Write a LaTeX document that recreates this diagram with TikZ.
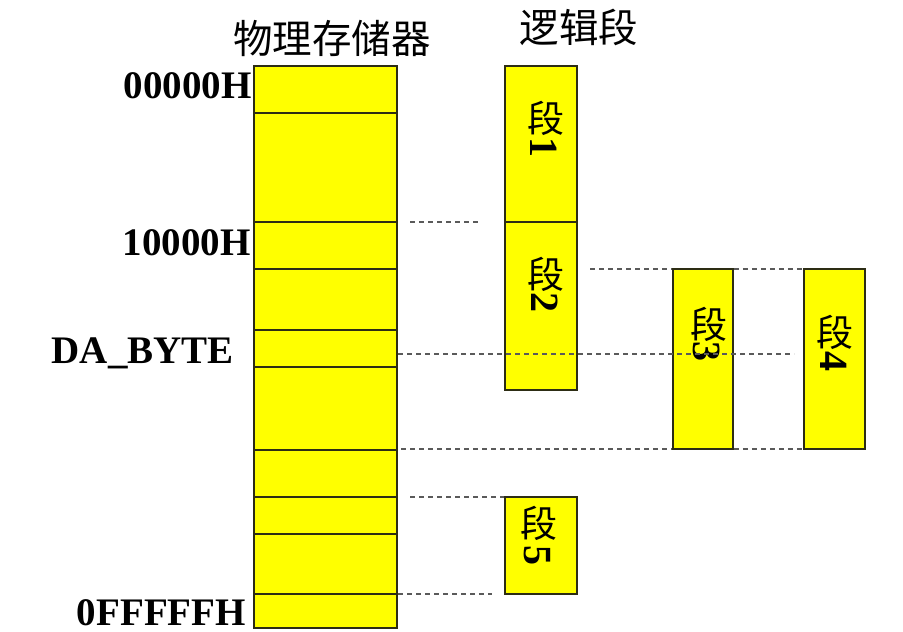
\documentclass[tikz,border=0pt]{standalone}
\usepackage{fontspec}
\setmainfont{Liberation Serif}
\newfontfamily\cjk{Noto Sans CJK SC}
\definecolor{boxline}{RGB}{45,45,20}
\definecolor{boxfill}{RGB}{255,255,0}
\definecolor{dashgray}{RGB}{90,90,90}
\tikzset{
  cell/.style={draw=boxline, fill=boxfill, line width=1.6pt, inner sep=0pt, minimum width=143pt},
  segbox/.style={draw=boxline, fill=boxfill, line width=1.6pt, inner sep=0pt},
  segchar/.style={inner sep=0pt, font=\fontsize{37}{37}\selectfont\cjk},
  segnum/.style={inner sep=0pt, rotate=-90, font=\fontsize{40}{40}\selectfont\bfseries},
  addr/.style={inner sep=0pt, anchor=base east, font=\fontsize{39}{40}\selectfont\bfseries},
  title/.style={inner sep=0pt, font=\fontsize{39.5}{40}\selectfont\cjk},
  guide/.style={draw=dashgray, line width=1.2pt, dash pattern=on 5pt off 4pt}
}
\begin{document}
\begin{tikzpicture}[x=1pt,y=-1pt]
\useasboundingbox (0,0) rectangle (903,632);
% titles
\node[title] (t1) at (332,38) {物理存储器};
\node[title] (t2) at (579,27) {逻辑段};
% physical memory cells
\node[cell, minimum height=47pt]  (m1)  at (325.5,89.5) {};
\node[cell, minimum height=109pt] (m2)  at (325.5,167.5) {};
\node[cell, minimum height=47pt]  (m3)  at (325.5,245.5) {};
\node[cell, minimum height=61pt]  (m4)  at (325.5,299.5) {};
\node[cell, minimum height=37pt]  (m5)  at (325.5,348.5) {};
\node[cell, minimum height=83pt]  (m6)  at (325.5,408.5) {};
\node[cell, minimum height=47pt]  (m7)  at (325.5,473.5) {};
\node[cell, minimum height=37pt]  (m8)  at (325.5,515.5) {};
\node[cell, minimum height=60pt]  (m9)  at (325.5,564) {};
\node[cell, minimum height=34pt]  (m10) at (325.5,611) {};
% address labels
\node[addr] (a1) at (252,98) {00000H};
\node[addr] (a2) at (251,255) {10000H};
\node[addr] (a3) at (234,363) {DA\_BYTE};
\node[addr] (a4) at (246,625) {0FFFFFH};
% logical segments
\node[segbox, minimum width=72pt, minimum height=156pt] (s1) at (541,144) {};
\node[segbox, minimum width=72pt, minimum height=168pt] (s2) at (541,306) {};
\node[segbox, minimum width=60pt, minimum height=180pt] (s3) at (703,359) {};
\node[segbox, minimum width=61pt, minimum height=180pt] (s4) at (834.5,359) {};
\node[segbox, minimum width=72pt, minimum height=97pt]  (s5) at (541,545.5) {};
% segment labels (vertical text)
\node[segchar] (c1) at (546,118) {段};  \node[segnum] (n1) at (544,147) {1};
\node[segchar] (c2) at (546,274) {段};  \node[segnum] (n2) at (545,302) {2};
\node[segchar] (c3) at (709,324) {段};  \node[segnum] (n3) at (707,351) {3};
\node[segchar] (c4) at (835,332) {段};  \node[segnum] (n4) at (834,361) {4};
\node[segchar] (c5) at (539,523) {段};  \node[segnum] (n5) at (537,555) {5};
% guide line ends
\coordinate (g1a) at (410,222);  \coordinate (g1b) at (481,222);
\coordinate (g2a) at (590,269);
\coordinate (g3a) at (398,354);  \coordinate (g3b) at (794,354);
\coordinate (g4a) at (401,449);
\coordinate (g5a) at (410,497);
\coordinate (g6a) at (398,594);  \coordinate (g6b) at (492,594);
\draw[guide] (g1a) -- (g1b);
\draw[guide] (g2a) -- (g2a -| s3.west);
\draw[guide] (g2a -| s3.east) -- (g2a -| s4.west);
\draw[guide] (g3a) -- (g3b);
\draw[guide] (g4a) -- (g4a -| s3.west);
\draw[guide] (g4a -| s3.east) -- (g4a -| s4.west);
\draw[guide] (g5a) -- (g5a -| s5.west);
\draw[guide] (g6a) -- (g6b);
\end{tikzpicture}
\end{document}
